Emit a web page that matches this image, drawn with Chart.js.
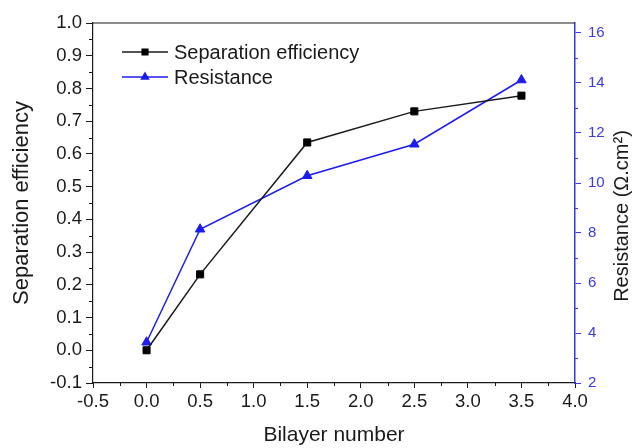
<!DOCTYPE html>
<html>
<head>
<meta charset="utf-8">
<script src="https://cdn.jsdelivr.net/npm/chart.js@4.4.1/dist/chart.umd.min.js"></script>
<style>
  html, body { margin: 0; padding: 0; background: #ffffff; }
  canvas { display: block; }
</style>
</head>
<body>
<canvas id="chart" width="635" height="448"></canvas>
<script>
// Bilayer count on the x axis, two measured series on separate y axes
const bilayerNumber = [0, 0.5, 1.5, 2.5, 3.5];
const separationEfficiency = [0.0, 0.232, 0.635, 0.73, 0.778];
const resistance = [3.63, 8.15, 10.29, 11.55, 14.12];

const seriesNames = ['Separation efficiency', 'Resistance'];
const xTitle = 'Bilayer number';
const yTitle = 'Separation efficiency';
const y1Title = 'Resistance (\u03A9.cm\u00B2)';

const FONT = "'Liberation Sans', Arial, Helvetica, sans-serif";
const INK = '#1a1a1a';
const BLUE = '#1c1cf0';
const BLUE_AXIS = '#3a3ae0';

const toPoints = (xs, ys) => xs.map((x, i) => ({ x, y: ys[i] }));
const fmt1 = v => (Math.abs(v) < 1e-9 ? 0 : v).toFixed(1);

// Short unlabeled ticks halfway between the labelled ones
const minorTicks = {
  id: 'minorTicks',
  afterDraw(chart) {
    const ctx = chart.ctx;
    const specs = [
      { id: 'x', step: 0.5, len: 3, color: INK },
      { id: 'y', step: 0.1, len: 4, color: INK },
      { id: 'y1', step: 2, len: 3, color: BLUE_AXIS }
    ];
    specs.forEach(s => {
      const sc = chart.scales[s.id];
      ctx.save();
      ctx.strokeStyle = s.color;
      ctx.lineWidth = 1;
      ctx.beginPath();
      for (let v = sc.min + s.step / 2; v < sc.max - 1e-9; v += s.step) {
        const p = Math.round(sc.getPixelForValue(v)) + 0.5;
        if (s.id === 'x') { ctx.moveTo(p, sc.top); ctx.lineTo(p, sc.top + s.len); }
        else if (s.id === 'y') { ctx.moveTo(sc.right, p); ctx.lineTo(sc.right - s.len, p); }
        else { ctx.moveTo(sc.left, p); ctx.lineTo(sc.left + s.len, p); }
      }
      ctx.stroke();
      ctx.restore();
    });
  }
};

// Top edge of the frame
const frameTop = {
  id: 'frameTop',
  beforeDatasetsDraw(chart) {
    const { ctx, chartArea } = chart;
    ctx.save();
    ctx.strokeStyle = INK;
    ctx.lineWidth = 1.2;
    ctx.beginPath();
    ctx.moveTo(chartArea.left, chartArea.top);
    ctx.lineTo(chartArea.right, chartArea.top);
    ctx.stroke();
    ctx.restore();
  }
};

// Right axis title, reading bottom to top
const rightTitle = {
  id: 'rightTitle',
  afterDraw(chart) {
    const { ctx, chartArea } = chart;
    ctx.save();
    ctx.translate(chart.width - 13, (chartArea.top + chartArea.bottom) / 2 + 13);
    ctx.rotate(-Math.PI / 2);
    ctx.font = '20px ' + FONT;
    ctx.fillStyle = INK;
    ctx.textAlign = 'center';
    ctx.textBaseline = 'middle';
    ctx.fillText(y1Title, 0, 0);
    ctx.restore();
  }
};

// Legend entries drawn as a line with the marker in its middle
const lineLegend = {
  id: 'lineLegend',
  afterDatasetsDraw(chart) {
    const { ctx, chartArea } = chart;
    const x0 = chartArea.left + 29, x1 = chartArea.left + 75, tx = chartArea.left + 81;
    chart.data.datasets.forEach((ds, i) => {
      const y = chartArea.top + 29 + i * 25;
      ctx.save();
      ctx.strokeStyle = ds.borderColor;
      ctx.lineWidth = ds.borderWidth;
      ctx.beginPath();
      ctx.moveTo(x0, y);
      ctx.lineTo(x1, y);
      ctx.stroke();
      ctx.fillStyle = ds.pointBackgroundColor;
      ctx.strokeStyle = ds.pointBorderColor;
      Chart.helpers.drawPoint(ctx, { pointStyle: ds.pointStyle, radius: 4, borderWidth: 1, rotation: 0 }, (x0 + x1) / 2, y);
      ctx.font = '20px ' + FONT;
      ctx.fillStyle = INK;
      ctx.textAlign = 'left';
      ctx.textBaseline = 'middle';
      ctx.fillText(ds.label, tx, y + 1);
      ctx.restore();
    });
  }
};

new Chart(document.getElementById('chart'), {
  type: 'line',
  data: {
    datasets: [
      {
        label: seriesNames[0],
        data: toPoints(bilayerNumber, separationEfficiency),
        yAxisID: 'y',
        borderColor: INK,
        borderWidth: 1.5,
        pointStyle: 'rect',
        pointRadius: 5,
        pointBackgroundColor: '#000000',
        pointBorderColor: '#000000',
        pointBorderWidth: 1,
        tension: 0
      },
      {
        label: seriesNames[1],
        data: toPoints(bilayerNumber, resistance),
        yAxisID: 'y1',
        borderColor: BLUE,
        borderWidth: 1.5,
        pointStyle: 'triangle',
        pointRadius: 5.5,
        pointBackgroundColor: BLUE,
        pointBorderColor: BLUE,
        pointBorderWidth: 1,
        tension: 0
      }
    ]
  },
  options: {
    responsive: false,
    devicePixelRatio: 1,
    animation: false,
    layout: { padding: { top: 23, left: 0, right: 0, bottom: 0 } },
    plugins: { legend: { display: false }, tooltip: { enabled: false } },
    scales: {
      x: {
        type: 'linear',
        min: -0.5,
        max: 4.0,
        ticks: { stepSize: 0.5, callback: fmt1, font: { family: FONT, size: 18.5 }, color: INK, padding: 3, maxRotation: 0, autoSkip: false },
        grid: { drawOnChartArea: false, tickLength: 5, color: INK, tickColor: INK },
        border: { color: INK, width: 1.2 },
        title: { display: true, text: xTitle, font: { family: FONT, size: 21 }, color: INK, padding: 0 },
        afterFit(scale) { scale.height = 65; }
      },
      y: {
        position: 'left',
        min: -0.1,
        max: 1.0,
        ticks: { stepSize: 0.1, callback: fmt1, font: { family: FONT, size: 18.5 }, color: INK, padding: 4 },
        grid: { drawOnChartArea: false, tickLength: 7, color: INK, tickColor: INK },
        border: { color: INK, width: 1.2 },
        title: { display: true, text: yTitle, font: { family: FONT, size: 22 }, color: INK, padding: { top: 9, bottom: 0 } },
        afterFit(scale) { scale.width = 93; }
      },
      y1: {
        position: 'right',
        min: 2,
        max: 16.4,
        ticks: { stepSize: 2, includeBounds: false, font: { family: FONT, size: 15 }, color: BLUE_AXIS, padding: 7 },
        grid: { drawOnChartArea: false, tickLength: 6, color: BLUE_AXIS, tickColor: BLUE_AXIS },
        border: { color: BLUE_AXIS, width: 1.5 },
        afterFit(scale) { scale.width = 60; }
      }
    }
  },
  plugins: [frameTop, minorTicks, lineLegend, rightTitle]
});
</script>
</body>
</html>
